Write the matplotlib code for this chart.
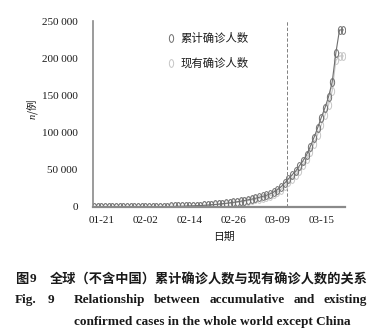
import matplotlib
matplotlib.use("Agg")
import matplotlib.pyplot as plt
import numpy as np
from matplotlib.lines import Line2D
from matplotlib.path import Path

# daily counts, one value per day starting 01-19
CUMULATIVE = [
    0, 0, 10, 20, 30, 50, 80, 100, 120, 150,
    180, 200, 220, 250, 280, 300, 350, 400, 450, 500,
    600, 700, 800, 900, 1000, 1200, 1400, 1600, 1800, 2000,
    2300, 2600, 3000, 3400, 3900, 4400, 5000, 5600, 6300, 7000,
    7800, 8700, 9600, 10600, 11700, 12900, 14200, 15600, 17500, 20000,
    23000, 27000, 32000, 37500, 43000, 48000, 55000, 62000, 70000, 81000,
    93000, 106000, 120000, 133000, 148000, 168000, 207000, 238000, 238000,
]
EXISTING = [
    0, 0, 10, 20, 30, 50, 70, 90, 110, 140,
    160, 180, 200, 220, 250, 270, 310, 360, 400, 450,
    540, 630, 720, 810, 900, 1080, 1260, 1440, 1620, 1800,
    2100, 2400, 2700, 3100, 3500, 4000, 4500, 5000, 5600, 6200,
    6900, 7700, 8500, 9400, 10300, 11300, 12400, 13500, 15000, 17200,
    20000, 23500, 28000, 33000, 38000, 43000, 49000, 56000, 64000, 74000,
    85000, 97000, 110000, 123000, 137000, 156000, 197000, 203000, 203000,
]
TICK_DAYS = [2, 14, 26, 38, 50, 62]
TICK_LABELS = ["01-21", "02-02", "02-14", "02-26", "03-09", "03-15"]
Y_TICKS = [0, 50000, 100000, 150000, 200000, 250000]
MARK_DAY = 52.7
SERIES_NAMES = ["累计确诊人数", "现有确诊人数"]

DARK = "#6f6f6f"
LIGHT = "#c6c6c6"
AXIS = "#8a8a8a"
INK = "#1a1a1a"
SERIF = "Liberation Serif"
CJK = "Noto Sans CJK SC"

plt.rcParams["mathtext.fontset"] = "custom"
plt.rcParams["mathtext.it"] = "Liberation Serif:italic"
plt.rcParams["mathtext.rm"] = "Liberation Serif"

W, H = 384, 335

# tall open ellipse used as point marker
t = np.linspace(0, 2 * np.pi, 48)
OVAL = Path(np.c_[0.55 * np.cos(t), np.sin(t)], closed=True)

fig = plt.figure(figsize=(W / 100, H / 100), dpi=100)
ax = fig.add_axes([93 / W, 1 - 207 / H, (345 - 93) / W, (207 - 21) / H])

days = np.arange(len(CUMULATIVE))
mk = dict(marker=OVAL, markersize=5.6, markerfacecolor="none",
          markeredgewidth=0.7, linewidth=0.8)
ax.plot(days, EXISTING, color=LIGHT, markeredgecolor=LIGHT, zorder=3, **mk)
ax.plot(days, CUMULATIVE, color=DARK, markeredgecolor=DARK, zorder=4, **mk)

ax.axvline(MARK_DAY, color="#808080", lw=0.7, dashes=(3.5, 2), zorder=2)

ax.set_xlim(-0.3, 68.5)
ax.set_ylim(0, 250000)
ax.set_xticks(TICK_DAYS)
ax.set_xticklabels(TICK_LABELS, family=SERIF, fontsize=8, color=INK)
ax.set_yticks(Y_TICKS)
ax.set_yticklabels([f"{v:,}".replace(",", " ") for v in Y_TICKS],
                   family=SERIF, fontsize=8, color=INK)
ax.tick_params(axis="x", length=0, pad=6.5)
ax.tick_params(axis="y", length=0, pad=11)
for s in ("top", "right"):
    ax.spines[s].set_visible(False)
ax.spines["left"].set_color(AXIS)
ax.spines["left"].set_linewidth(1.2)
ax.spines["bottom"].set_color(AXIS)
ax.spines["bottom"].set_linewidth(1.6)
ax.spines["bottom"].set_zorder(5)

fig.text(33 / W, 1 - 110 / H, "$n$/例", rotation=90, ha="center", va="center",
         family=[CJK, "DejaVu Sans"], fontsize=7.5, color=INK)
fig.text(224 / W, 1 - 237 / H, "日期", ha="center", va="center",
         family=CJK, fontsize=7.8, color=INK)

handles = [Line2D([], [], linestyle="none", marker=OVAL, markersize=5.6,
                  markerfacecolor="none", markeredgewidth=0.7, markeredgecolor=c)
           for c in (DARK, LIGHT)]
ax.legend(handles, SERIES_NAMES, loc="upper left",
          bbox_to_anchor=(167 / W, 1 - 33 / H), bbox_transform=fig.transFigure,
          frameon=False, prop={"family": CJK, "size": 8.2},
          handlelength=0.7, handletextpad=0.5, labelspacing=1.15,
          borderpad=0, borderaxespad=0)
for txt in ax.get_legend().get_texts():
    txt.set_color(INK)

# caption
fig.text(15 / W, 1 - 279 / H, "图", ha="left", va="center", family=CJK,
         fontsize=9.5, fontweight="bold", color=INK)
fig.text(30 / W, 1 - 279 / H, "9", ha="left", va="center", family=SERIF,
         fontsize=9.5, fontweight="bold", color=INK)
fig.text(50 / W, 1 - 279 / H, "全球（不含中国）累计确诊人数与现有确诊人数的关系",
         ha="left", va="center", family=CJK, fontsize=9.5, fontweight="bold",
         color=INK)

cap = dict(va="center", family=SERIF, fontsize=9.5, fontweight="bold", color=INK)
fig.text(15 / W, 1 - 300 / H, "Fig.", ha="left", **cap)
fig.text(48 / W, 1 - 300 / H, "9", ha="left", **cap)

# justified English line
words = "Relationship between accumulative and existing".split()
objs = [fig.text(0, 1 - 300 / H, w, ha="left", **cap) for w in words]
fig.canvas.draw()
r = fig.canvas.get_renderer()
widths = [o.get_window_extent(r).width for o in objs]
x0, x1 = 74, 367
gap = (x1 - x0 - sum(widths)) / (len(words) - 1)
x = x0
for o, w in zip(objs, widths):
    o.set_x(x / W)
    x += w + gap
fig.text(74 / W, 1 - 322.5 / H, "confirmed cases in the whole world except China",
         ha="left", **cap)

fig.savefig("out.png", dpi=100, facecolor="white")
